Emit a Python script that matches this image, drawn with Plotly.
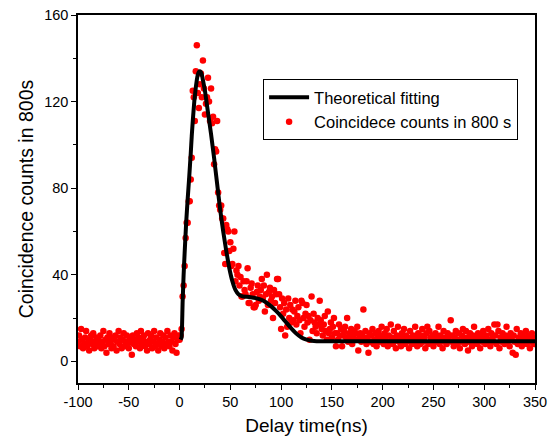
import numpy as np
import plotly.graph_objects as go

# Delay times (ns), 1 ns bins from -100 to 350
delay_time = np.arange(-100, 351)

# Coincidence counts
counts_pre = [
    9, 12, 7, 15, 10, 6, 8, 11, 14, 7,
    9, 5, 10, 12, 8, 13, 6, 9, 11, 7,
    10, 8, 12, 6, 9, 14, 7, 10, 4, 11,
    8, 13, 9, 6, 11, 7, 10, 12, 5, 9,
    14, 8, 11, 6, 10, 13, 7, 9, 12, 8,
    6, 11, 9, 3, 12, 8, 10, 7, 13, 9,
    11, 6, 14, 8, 10, 12, 7, 9, 5, 13,
    8, 10, 12, 6, 9, 14, 7, 11, 8, 5,
    10, 13, 7, 9, 12, 6, 11, 8, 14, 9,
    7, 12, 9, 5, 11, 13, 8, 4, 10, 12,
]
counts_peak = [
    10, 12, 15, 30, 35, 44, 57, 64, 64, 74,
    74, 84, 94, 125, 122, 111, 134, 146, 124, 117,
    128, 133, 122, 139, 126, 114, 119, 122, 131, 120,
    111, 126, 110, 113, 91, 98, 97, 111, 78, 72,
    70, 72, 66, 66, 50, 45, 63, 61, 60, 51,
]
counts_tail1 = [
    55, 44, 45, 52, 60, 37, 42, 40, 44, 35,
    39, 30, 30, 37, 33, 31, 37, 43, 27, 27,
    34, 36, 31, 25, 25, 26, 32, 35, 28, 30,
    33, 38, 29, 35, 23, 31, 40, 26, 32, 34,
    28, 30, 20, 33, 27, 31, 38, 38, 31, 25,
    15, 29, 22, 27, 12, 24, 16, 29, 20, 26,
    18, 24, 19, 23, 28, 17, 21, 25, 19, 13,
    28, 27, 20, 16, 22, 26, 18, 21, 10, 19,
    30, 14, 22, 18, 16, 13, 20, 17, 28, 19,
    15, 12, 17, 21, 14, 10, 23, 13, 15, 18,
]
counts_tail2 = [
    11, 16, 20, 13, 7, 13, 10, 17, 12, 15,
    7, 12, 14, 16, 11, 20, 9, 13, 11, 15,
    8, 12, 14, 10, 13, 16, 5, 11, 13, 9,
    12, 24, 10, 14, 8, 11, 4, 13, 9, 12,
    15, 8, 10, 13, 7, 11, 14, 9, 12, 16,
    10, 8, 13, 11, 15, 7, 12, 9, 17, 11,
    8, 14, 10, 6, 12, 16, 9, 11, 7, 13,
    10, 15, 8, 12, 9, 11, 6, 14, 10, 8,
    12, 9, 16, 11, 7, 13, 10, 8, 12, 15,
    9, 11, 6, 13, 16, 8, 14, 11, 9, 12,
]
counts_tail3 = [
    7, 10, 13, 9, 11, 16, 8, 12, 10, 6,
    14, 9, 11, 8, 13, 10, 12, 19, 9, 12,
    7, 11, 14, 8, 10, 13, 6, 9, 12, 15,
    10, 8, 14, 11, 5, 9, 13, 10, 7, 12,
    16, 9, 11, 8, 13, 10, 6, 12, 9, 14,
    11, 8, 12, 9, 15, 10, 7, 13, 11, 9,
    17, 12, 8, 17, 14, 6, 11, 9, 13, 10,
    8, 12, 16, 9, 11, 7, 13, 10, 4, 12,
    9, 3, 15, 8, 11, 10, 13, 7, 12, 9,
    11, 14, 8, 10, 12, 6, 9, 13, 11, 8,
    10,
]
counts = counts_pre + counts_peak + counts_tail1 + counts_tail2 + counts_tail3

# Theoretical fitting curve
fit_time = [1, 2, 2.5, 3, 4, 5, 6.5, 8, 9.5, 11, 12, 13, 14.5, 16, 17, 18, 19, 20,
            21, 22, 23, 25, 28, 31, 34, 37, 40, 43, 46, 49, 52, 55, 58, 62,
            66, 70, 75, 80, 85, 90, 95, 100, 105, 110, 115, 120, 125, 130, 135,
            200, 350]
fit_value = [10, 11, 17, 27, 40, 50, 64, 75, 85, 96, 104, 111, 120, 126.5, 130, 132.5, 133.7, 134,
             133.6, 132.3, 130, 125, 115, 105, 94, 82, 70, 60, 51, 43, 37, 33, 31, 30,
             29.8, 29.6, 29.2, 28.5, 27.3, 25.5, 23.3, 20.8, 18, 15.2, 12.8, 11, 10, 9.5, 9.3,
             9.3, 9.3]

x_tick_values = [-100, -50, 0, 50, 100, 150, 200, 250, 300, 350]
x_tick_labels = ["-100", "-50", "0", "50", "100", "150", "200", "250", "300", "350"]

fig = go.Figure()
fig.add_trace(go.Scatter(
    x=delay_time, y=counts, mode="markers", name="Coincidece counts in 800 s",
    marker=dict(color="#ff0000", size=6.5, line=dict(width=0)),
))
fig.add_trace(go.Scatter(
    x=fit_time, y=fit_value, mode="lines", name="Theoretical fitting",
    line=dict(color="black", width=4, shape="spline", smoothing=0.3),
))

font_family = "Arial, Liberation Sans, sans-serif"
fig.update_layout(
    width=550, height=445,
    margin=dict(l=78, r=15, t=15, b=62),
    paper_bgcolor="white", plot_bgcolor="white",
    font=dict(family=font_family, size=14, color="black"),
    showlegend=True,
    legend=dict(
        x=0.405, y=0.826, xanchor="left", yanchor="top",
        bgcolor="white", bordercolor="black", borderwidth=1,
        font=dict(family=font_family, size=16.5, color="black"),
        traceorder="reversed", itemwidth=40,
        tracegroupgap=0,
    ),
    xaxis=dict(
        range=[-100, 350], tickmode="array", tickvals=x_tick_values, ticktext=x_tick_labels,
        ticks="outside", ticklen=5, tickwidth=1, tickcolor="black",
        minor=dict(ticks="outside", dtick=25, tick0=-100, ticklen=3, tickcolor="black"),
        showline=True, linecolor="black", linewidth=1.5, mirror=True,
        showgrid=False, zeroline=False, automargin=False,
        title=dict(text="Delay time(ns)", font=dict(size=19), standoff=10),
        tickfont=dict(size=14.5),
    ),
    yaxis=dict(
        range=[-10, 160], tickmode="linear", tick0=0, dtick=40,
        ticks="outside", ticklen=5, tickwidth=1, tickcolor="black",
        minor=dict(ticks="outside", dtick=20, tick0=0, ticklen=3, tickcolor="black"),
        showline=True, linecolor="black", linewidth=1.5, mirror=True,
        showgrid=False, zeroline=False, automargin=False,
        title=dict(text="Coincidence counts in 800s", font=dict(size=19.5), standoff=5),
        tickfont=dict(size=14.5),
    ),
)

fig.write_html("out.html")
